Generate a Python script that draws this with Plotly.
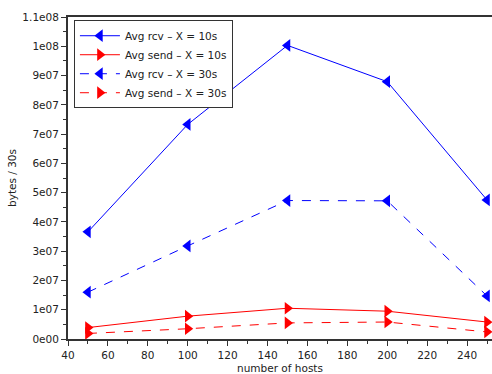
import plotly.graph_objects as go

hosts = [50, 100, 150, 200, 250]
rcv_10 = [3.66e7, 7.33e7, 1.003e8, 8.79e7, 4.75e7]
send_10 = [3.9e6, 7.8e6, 1.05e7, 9.5e6, 5.8e6]
rcv_30 = [1.6e7, 3.18e7, 4.73e7, 4.72e7, 1.47e7]
send_30 = [1.9e6, 3.5e6, 5.5e6, 5.8e6, 2.4e6]

y_tickvals = [i * 1e7 for i in range(12)]
y_ticktext = ["0e00", "1e07", "2e07", "3e07", "4e07", "5e07", "6e07", "7e07", "8e07", "9e07", "1e08", "1.1e08"]
x_tickvals = list(range(40, 261, 20))

fig = go.Figure()
series = [
    ("Avg rcv – X = 10s", rcv_10, "blue", "solid", "triangle-left"),
    ("Avg send – X = 10s", send_10, "red", "solid", "triangle-right"),
    ("Avg rcv – X = 30s", rcv_30, "blue", "dash", "triangle-left"),
    ("Avg send – X = 30s", send_30, "red", "dash", "triangle-right"),
]
for name, ys, col, dash, sym in series:
    fig.add_trace(go.Scatter(
        x=hosts, y=ys, name=name, mode="lines+markers",
        line=dict(color=col, width=1, dash=dash),
        marker=dict(color=col, symbol=sym, size=11),
        cliponaxis=False,
    ))

axis_common = dict(
    showgrid=False, zeroline=False, showline=True, linecolor="#333333", linewidth=2,
    ticks="outside", ticklen=5, tickcolor="#333333", mirror=True, automargin=False,
    tickfont=dict(size=10.5, color="#222222"),
)
fig.update_xaxes(
    **axis_common, range=[40, 252.5], tickvals=x_tickvals,
    minor=dict(dtick=10, ticks="outside", ticklen=3, tickcolor="#333333"),
    title=dict(text="number of hosts", font=dict(size=10.5, color="#222222"), standoff=6),
)
fig.update_yaxes(
    **axis_common, range=[0, 1.1e8], tickvals=y_tickvals, ticktext=y_ticktext,
    minor=dict(dtick=5e6, ticks="outside", ticklen=3, tickcolor="#333333"),
    title=dict(text="bytes / 30s", font=dict(size=10.5, color="#222222"), standoff=4),
)
fig.update_layout(
    width=492, height=374,
    margin=dict(l=68, r=0, t=17, b=35),
    paper_bgcolor="white", plot_bgcolor="white",
    font=dict(family="DejaVu Sans", size=11, color="#222222"),
    legend=dict(
        x=0.014, y=0.99, xanchor="left", yanchor="top",
        bordercolor="#333333", borderwidth=1, bgcolor="white",
        font=dict(size=10.5), itemwidth=40, tracegroupgap=0,
    ),
)
fig.write_html("out.html", config={"displayModeBar": False},
               post_script="document.body.style.margin='0';document.body.style.overflow='hidden';")
